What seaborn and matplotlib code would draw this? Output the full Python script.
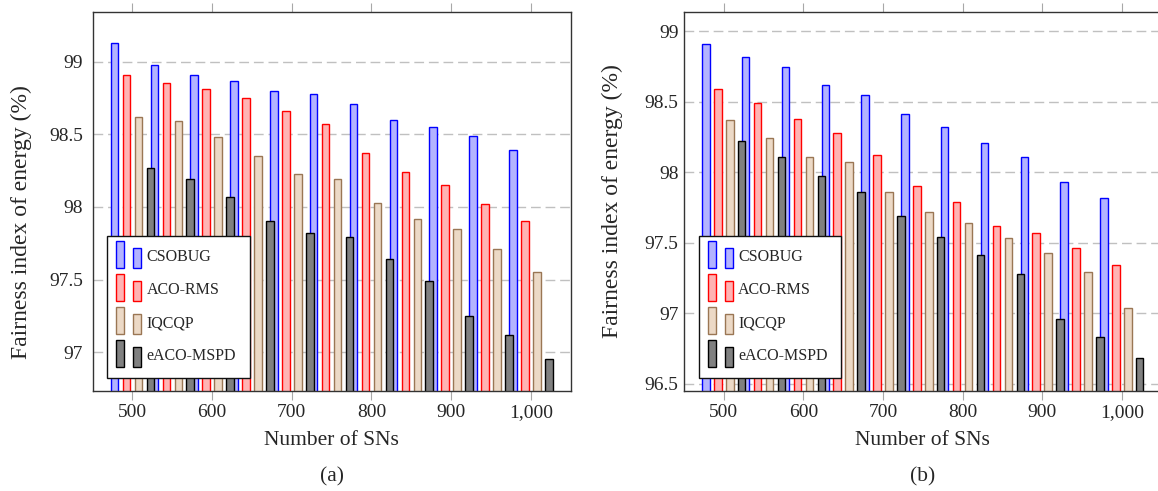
import numpy as np
import pandas as pd
import matplotlib
matplotlib.use("Agg")
import matplotlib.pyplot as plt
import matplotlib.colors as mcolors
import seaborn as sns
from matplotlib.legend_handler import HandlerBase
from matplotlib.patches import Rectangle, Patch

# ---------------- data ----------------
sn_counts = [500, 550, 600, 650, 700, 750, 800, 850, 900, 950, 1000]
methods = ["CSOBUG", "ACO-RMS", "IQCQP", "eACO-MSPD"]
xtick_values = [500, 600, 700, 800, 900, 1000]
xtick_labels = ["500", "600", "700", "800", "900", "1,000"]

a_csobug = [99.13, 98.98, 98.91, 98.87, 98.80, 98.78, 98.71, 98.60, 98.55, 98.49, 98.39]
a_acorms = [98.91, 98.85, 98.81, 98.75, 98.66, 98.57, 98.37, 98.24, 98.15, 98.02, 97.90]
a_iqcqp = [98.62, 98.59, 98.48, 98.35, 98.23, 98.19, 98.03, 97.92, 97.85, 97.71, 97.55]
a_eaco = [98.27, 98.19, 98.07, 97.90, 97.82, 97.79, 97.64, 97.49, 97.25, 97.12, 96.95]

b_csobug = [98.91, 98.82, 98.75, 98.62, 98.55, 98.41, 98.32, 98.21, 98.11, 97.93, 97.82]
b_acorms = [98.59, 98.49, 98.38, 98.28, 98.12, 97.90, 97.79, 97.62, 97.57, 97.46, 97.34]
b_iqcqp = [98.37, 98.24, 98.11, 98.07, 97.86, 97.72, 97.64, 97.53, 97.43, 97.29, 97.04]
b_eaco = [98.22, 98.11, 97.97, 97.86, 97.69, 97.54, 97.41, 97.28, 96.96, 96.83, 96.68]

a_yticks = [97, 97.5, 98, 98.5, 99]
b_yticks = [96.5, 97, 97.5, 98, 98.5, 99]

# ---------------- style ----------------
face_colors = ["#b3b3ff", "#ffb3b3", "#ecd9c6", "#808080"]
edge_colors = ["#0000ff", "#ff0000", "#9a7654", "#000000"]

sns.set_style("white")
plt.rcParams["font.family"] = ["Liberation Serif", "DejaVu Serif"]
plt.rcParams["mathtext.fontset"] = "stix"


class TwoBars(HandlerBase):
    def create_artists(self, legend, orig, xd, yd, width, height, fontsize, trans):
        fc = orig.get_facecolor()
        ec = orig.get_edgecolor()
        bw = 0.5 * fontsize
        base = -0.41 * fontsize
        x0 = -xd - 0.3 * fontsize
        span = 1.56 * fontsize
        r1 = Rectangle((x0, base), bw, 1.67 * fontsize, facecolor=fc,
                       edgecolor=ec, lw=1.0, transform=trans)
        r2 = Rectangle((x0 + span - bw, base), bw, 1.25 * fontsize,
                       facecolor=fc, edgecolor=ec, lw=1.0, transform=trans)
        return [r1, r2]


def make_df(vals):
    rows = []
    for m, series in zip(methods, vals):
        for n, v in zip(sn_counts, series):
            rows.append({"SNs": str(n), "method": m, "value": v})
    return pd.DataFrame(rows)


fig = plt.figure(figsize=(11.58, 4.91), dpi=100)
ax_a = fig.add_axes([0.0800, 0.2043, 0.4128, 0.7707])
ax_b = fig.add_axes([0.5907, 0.2043, 0.4124, 0.7707])

panels = [
    (ax_a, [a_csobug, a_acorms, a_iqcqp, a_eaco], (96.735, 99.34), a_yticks,
     ["97", "97.5", "98", "98.5", "99"], 0.446, 7, (0.0305, 0.4096), "(a)"),
    (ax_b, [b_csobug, b_acorms, b_iqcqp, b_eaco], (96.45, 99.135), b_yticks,
     ["96.5", "97", "97.5", "98", "98.5", "99"], 0.501, 4, (0.0314, 0.4096), "(b)"),
]

face_rgb = [mcolors.to_rgb(c) for c in face_colors]

order = [str(n) for n in sn_counts]
for ax, vals, ylim, yt, ytl, ylab_y, ypad, leg_anchor, cap in panels:
    df = make_df(vals)
    sns.barplot(data=df, x="SNs", y="value", hue="method", order=order,
                hue_order=methods, palette=face_colors, saturation=1,
                width=1.2, gap=0.37, dodge=True, errorbar=None,
                legend=False, linewidth=1.0, ax=ax)
    for p in ax.patches:
        fc = mcolors.to_rgb(p.get_facecolor())
        dists = [sum((a - b) ** 2 for a, b in zip(fc, f)) for f in face_rgb]
        k = int(np.argmin(dists))
        p.set_edgecolor(edge_colors[k])
        p.set_linewidth(1.0)

    ax.set_xlim(-1.0, 11.0)
    ax.set_ylim(*ylim)
    pos = [sn_counts.index(v) for v in xtick_values]
    ax.set_xticks(pos)
    ax.set_xticklabels(xtick_labels)
    ax.set_yticks(yt)
    ax.set_yticklabels(ytl)
    ax.tick_params(axis="x", which="both", top=True, bottom=True,
                   direction="out", length=6.5, width=0.8, color="#a8a8a8",
                   labelsize=14, pad=3)
    ax.tick_params(axis="y", length=0, labelsize=14, pad=ypad)
    ax.set_axisbelow(True)
    ax.yaxis.grid(True, color="#c0c0c0", linestyle=(0, (7, 3.5)), linewidth=1.0)
    ax.xaxis.grid(False)
    for s in ax.spines.values():
        s.set_visible(True)
        s.set_color("#333333")
        s.set_linewidth(1.0)

    ax.set_xlabel("Number of SNs", fontsize=15.5, labelpad=7)
    ax.set_ylabel("Fairness index of energy (%)", fontsize=17)
    ax.yaxis.set_label_coords(-0.127, ylab_y)

    handles = [Patch(facecolor=fc, edgecolor=ec) for fc, ec in zip(face_colors, edge_colors)]
    leg = ax.legend(handles, methods, loc="upper left", bbox_to_anchor=leg_anchor,
                    bbox_transform=ax.transAxes, borderaxespad=0,
                    handler_map={Patch: TwoBars()}, fontsize=11.5,
                    handlelength=1.21, handletextpad=0.4, labelspacing=1.06,
                    borderpad=0.85, fancybox=False, framealpha=1,
                    edgecolor="#111111")
    leg.get_frame().set_linewidth(1.0)

    bb = ax.get_position()
    fig.text((bb.x0 + bb.x1) / 2, 1 - 476.7 / 491, cap, ha="center",
             va="center", fontsize=15.5)

fig.savefig("out.png", dpi=100)
